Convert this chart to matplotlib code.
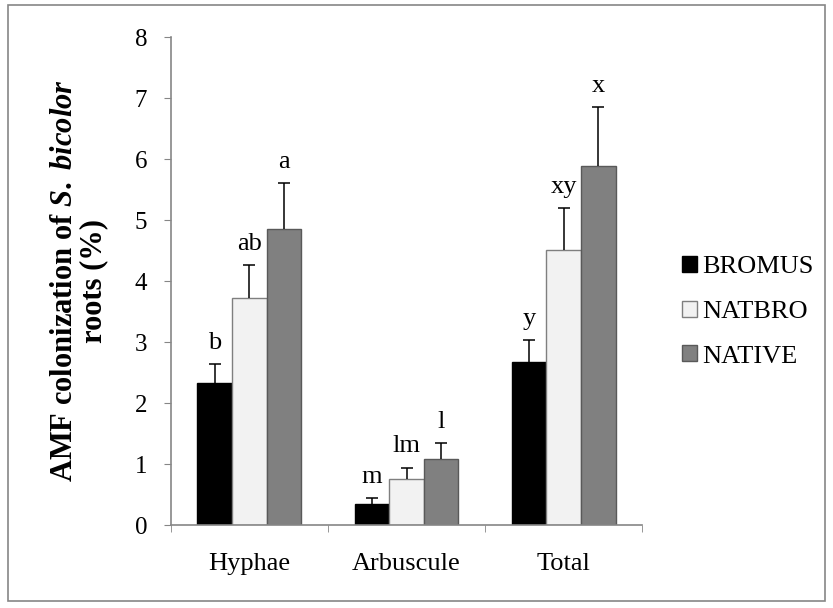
import matplotlib
matplotlib.use("Agg")
import matplotlib.pyplot as plt
import numpy as np
from matplotlib.patches import Rectangle

# data
categories = ["Hyphae", "Arbuscule", "Total"]
series = ["BROMUS", "NATBRO", "NATIVE"]
bromus = [2.33, 0.34, 2.68]
natbro = [3.72, 0.76, 4.51]
native = [4.85, 1.08, 5.89]
bromus_se = [0.31, 0.10, 0.35]
natbro_se = [0.54, 0.18, 0.69]
native_se = [0.76, 0.26, 0.96]
bromus_letters = ["b", "m", "y"]
natbro_letters = ["ab", "lm", "xy"]
native_letters = ["a", "l", "x"]

plt.rcParams["font.family"] = ["Liberation Serif", "DejaVu Serif"]
plt.rcParams["mathtext.fontset"] = "custom"
plt.rcParams["mathtext.it"] = "Liberation Serif:italic:bold"
plt.rcParams["mathtext.rm"] = "Liberation Serif:bold"

fig = plt.figure(figsize=(8.33, 6.08), dpi=100)
ax = fig.add_axes([0.205, 0.1365, 0.566, 0.8025])

# outer frame like the Excel chart area
fig.patches.append(Rectangle((0.010, 0.012), 0.980, 0.980, transform=fig.transFigure,
                             fill=False, edgecolor="#868686", linewidth=1.2))

x = np.arange(len(categories))
w = 0.22
values = [bromus, natbro, native]
errs = [bromus_se, natbro_se, native_se]
letters = [bromus_letters, natbro_letters, native_letters]
faces = ["#000000", "#f2f2f2", "#808080"]
edges = ["#000000", "#7f7f7f", "#595959"]

for i, name in enumerate(series):
    pos = x + (i - 1) * w
    ax.bar(pos, values[i], width=w, color=faces[i], edgecolor=edges[i],
           linewidth=1, label=name, zorder=2)
    eb = ax.errorbar(pos, values[i], yerr=[[0] * 3, errs[i]], fmt="none",
                     ecolor="black", elinewidth=1.1, capsize=4.5, capthick=1.1, zorder=3)
    # only the upper cap, like Excel "plus" error bars
    eb[1][0].set_visible(False)
    for j in range(len(categories)):
        ax.annotate(letters[i][j], (pos[j], values[i][j] + errs[i][j]),
                    xytext=(0, 11), textcoords="offset points",
                    ha="center", va="baseline", fontsize=19)

ax.set_xlim(-0.5, 2.5)
ax.set_ylim(0, 8)
ax.set_yticks(range(0, 9))
ax.set_xticks(x)
ax.set_xticklabels(categories)
ax.set_xticks([-0.5, 0.5, 1.5, 2.5], minor=True)
ax.tick_params(axis="x", which="major", length=0, pad=20, labelsize=19)
ax.tick_params(axis="x", which="minor", length=5, color="#868686", direction="out")
ax.tick_params(axis="y", length=5, color="#868686", direction="out", labelsize=18, pad=12)

for s in ["top", "right"]:
    ax.spines[s].set_visible(False)
for s in ["left", "bottom"]:
    ax.spines[s].set_color("#868686")
    ax.spines[s].set_linewidth(1.2)

ax.set_ylabel("AMF colonization of $\\mathit{S.\\ bicolor}$\nroots (%)", fontsize=22,
              fontweight="bold", labelpad=19, linespacing=1.0)

ax.legend(loc="center left", bbox_to_anchor=(1.085, 0.437), frameon=False, fontsize=19,
          handlelength=0.55, handleheight=0.55, handletextpad=0.2, labelspacing=0.85,
          borderpad=0, borderaxespad=0)

fig.savefig("out.png", dpi=100)
